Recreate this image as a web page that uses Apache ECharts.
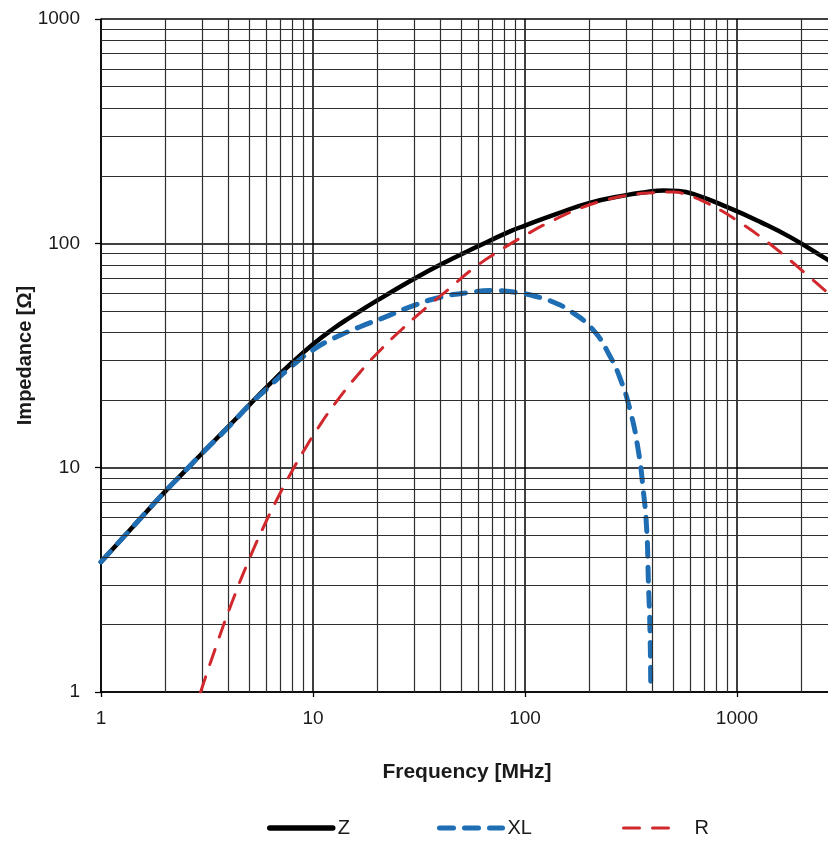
<!DOCTYPE html>
<html>
<head>
<meta charset="utf-8">
<script src="https://cdn.jsdelivr.net/npm/echarts@6/dist/echarts.min.js"></script>
<style>
  html, body { margin: 0; padding: 0; background: #ffffff; }
  #chart { width: 828px; height: 843px; }
</style>
</head>
<body>
<div id="chart"></div>
<script>
// Impedance curves of the ferrite bead (frequency in MHz, impedance in ohms)
const zFreq = [1, 1.5, 2, 2.5, 3, 4, 5, 6, 8, 10, 12.5, 15, 20, 30, 40, 60, 85, 100, 140, 200, 300, 370, 450, 530, 620, 900, 1300, 1800, 2650, 3000];
const zImp  = [3.8, 5.8, 7.8, 9.7, 11.6, 15.3, 19.0, 22.7, 29.5, 35.5, 41.7, 46.8, 55.5, 69.5, 80.5, 97, 113, 120, 135, 151, 164, 169, 172, 171, 166, 145, 124, 106, 85, 79.5];

const xlFreq = [1, 1.5, 2, 2.5, 3, 4, 5, 6, 8, 10, 12.5, 16.7, 22, 30, 40, 53, 71, 95, 118, 131, 163, 210, 252, 281, 313, 342, 361, 375, 382, 389, 392];
const xlImp  = [3.8, 5.8, 7.8, 9.7, 11.6, 15.2, 19, 22.3, 28.5, 33.5, 37.7, 42.5, 47, 52.9, 57.5, 60.2, 61.6, 60, 57.3, 55.5, 50, 41, 31.3, 25, 18.1, 12, 8, 5.3, 3.1, 1.83, 1];

const rFreq = [2.95, 3.5, 4.2, 5, 6, 7, 8, 9, 10.6, 12.9, 16.7, 20.7, 26.2, 33.8, 43.5, 57, 76, 102, 134, 180, 240, 320, 420, 500, 600, 700, 850, 1000, 1300, 1700, 2100, 2650, 3000];
const rImp  = [1.0, 1.61, 2.59, 3.9, 5.74, 7.7, 9.73, 11.8, 15.1, 19.7, 26.7, 33.3, 41.3, 51.2, 62.3, 77.2, 92.8, 109.7, 125.9, 142.7, 156, 164.9, 168.4, 169.3, 162.6, 153.3, 139.3, 126.3, 106.4, 87.1, 73.5, 60.7, 54.6];

// Intermediate log-decade grid values
const minorFreqTicks = [2, 3, 4, 5, 6, 7, 8, 9, 20, 30, 40, 50, 60, 70, 80, 90, 200, 300, 400, 500, 600, 700, 800, 900, 2000, 3000, 4000, 5000, 6000, 7000, 8000, 9000];
const minorImpTicks  = [2, 3, 4, 5, 6, 7, 8, 9, 20, 30, 40, 50, 60, 70, 80, 90, 200, 300, 400, 500, 600, 700, 800, 900];

const seriesNames = ['Z', 'XL', 'R'];
const xAxisTitle = 'Frequency [MHz]';
const yAxisTitle = 'Impedance [Ω]';

const zip = (xs, ys) => xs.map((x, i) => [x, ys[i]]);

const FONT = '"Liberation Sans", Arial, sans-serif';
const TEXT_COLOR = '#1a1a1a';

const chart = echarts.init(document.getElementById('chart'), null, { renderer: 'canvas' });

const legendBase = {
  orient: 'horizontal',
  top: 818,
  padding: 0,
  itemHeight: 14,
  selectedMode: false,
  itemStyle: { opacity: 0 },
  textStyle: { fontFamily: FONT, fontSize: 20, color: TEXT_COLOR }
};

const plainLabel = v => String(v);

chart.setOption({
  animation: false,
  backgroundColor: '#ffffff',
  grid: { left: 101, top: 19, width: 848, height: 673, containLabel: false, outerBoundsMode: 'none', show: false },
  xAxis: {
    type: 'log',
    logBase: 10,
    min: 1,
    max: 10000,
    axisLine: { show: true, lineStyle: { color: '#000', width: 1.5 } },
    axisTick: { show: true, length: 5, lineStyle: { color: '#000', width: 1.3 } },
    axisLabel: { margin: 17, fontFamily: FONT, fontSize: 19, color: TEXT_COLOR, formatter: plainLabel },
    splitLine: { show: true, lineStyle: { color: '#000', width: 1.5 } }
  },
  yAxis: {
    type: 'log',
    logBase: 10,
    min: 1,
    max: 1000,
    name: yAxisTitle,
    nameLocation: 'middle',
    nameGap: 66,
    nameMoveOverlap: false,
    nameTextStyle: { fontFamily: FONT, fontSize: 20, fontWeight: 'bold', color: TEXT_COLOR },
    axisLine: { show: true, lineStyle: { color: '#000', width: 1.5 } },
    axisTick: { show: true, length: 6, lineStyle: { color: '#000', width: 1.3 } },
    axisLabel: { margin: 21, fontFamily: FONT, fontSize: 19, color: TEXT_COLOR, formatter: plainLabel },
    splitLine: { show: true, lineStyle: { color: '#000', width: 1.5 } }
  },
  legend: [
    Object.assign({}, legendBase, { data: [seriesNames[0]], left: 267, itemWidth: 63, lineStyle: { width: 5.5 } }),
    Object.assign({}, legendBase, { data: [seriesNames[1]], left: 437, itemWidth: 63, lineStyle: { width: 5 } }),
    Object.assign({}, legendBase, { data: [seriesNames[2]], left: 622, itemWidth: 52, lineStyle: { width: 3 },
      textStyle: Object.assign({}, legendBase.textStyle, { padding: [0, 0, 0, 14] }) })
  ],
  graphic: [{
    type: 'text',
    x: 467,
    y: 772,
    silent: true,
    style: {
      text: xAxisTitle,
      font: 'bold 21px ' + FONT,
      fill: TEXT_COLOR,
      align: 'center',
      verticalAlign: 'middle'
    }
  }],
  series: [
    {
      // minor grid lines for every intermediate decade value
      name: '_grid',
      type: 'line',
      data: [],
      silent: true,
      z: 1,
      markLine: {
        silent: true,
        symbol: ['none', 'none'],
        label: { show: false },
        animation: false,
        lineStyle: { color: '#2e2e2e', width: 1.2, type: 'solid' },
        data: minorFreqTicks.map(v => ({ xAxis: v }))
          .concat(minorImpTicks.map(v => ({ yAxis: v })))
      }
    },
    {
      name: seriesNames[0],
      type: 'line',
      data: zip(zFreq, zImp),
      smooth: 0.5,
      symbol: 'none',
      z: 3,
      color: '#000000',
      lineStyle: { color: '#000000', width: 4.5, cap: 'round', join: 'round' }
    },
    {
      name: seriesNames[1],
      type: 'line',
      data: zip(xlFreq, xlImp),
      smooth: 0.5,
      symbol: 'none',
      z: 4,
      color: '#1f6eb4',
      lineStyle: { color: '#1f6eb4', width: 5, type: [14, 11], cap: 'round', join: 'round' }
    },
    {
      name: seriesNames[2],
      type: 'line',
      data: zip(rFreq, rImp),
      smooth: 0.5,
      symbol: 'none',
      z: 5,
      color: '#d0282c',
      lineStyle: { color: '#d0282c', width: 3, type: [16, 13], cap: 'round', join: 'round' }
    }
  ]
});
</script>
</body>
</html>
